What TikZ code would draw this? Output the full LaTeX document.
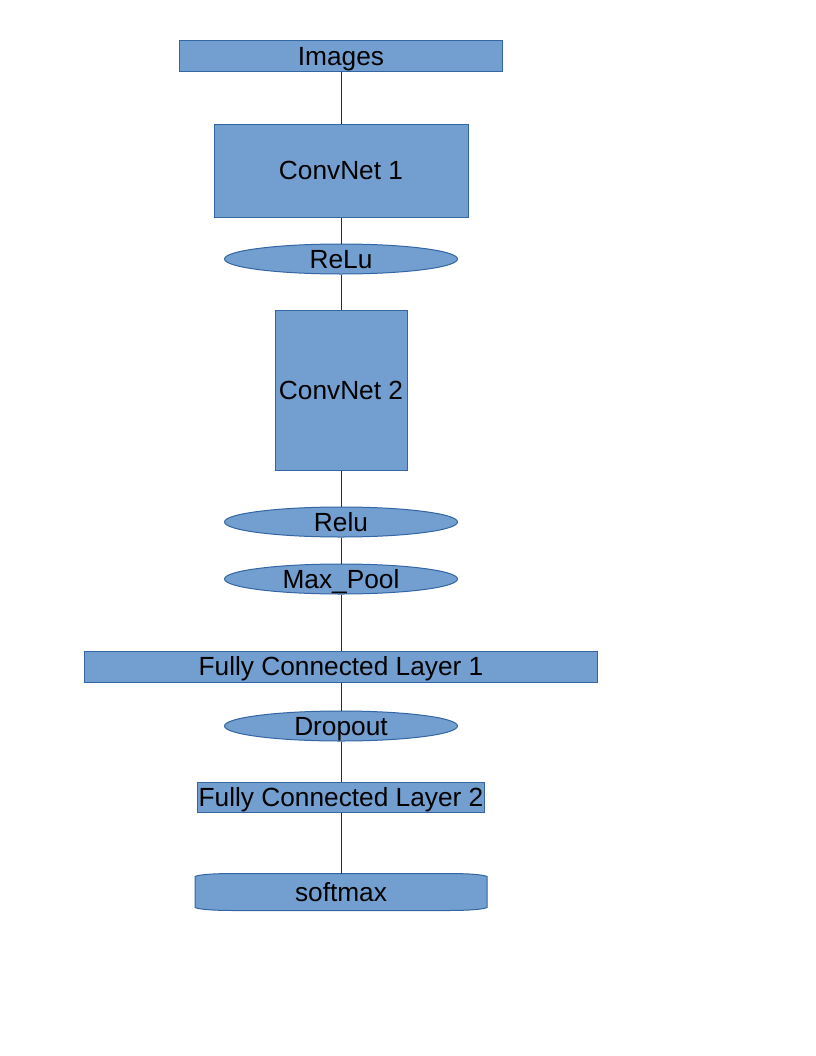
\documentclass[tikz,border=0pt]{standalone}
\usepackage{fontspec}
\setmainfont{Liberation Sans}
\usepackage{tikz}
\usetikzlibrary{shapes.geometric,backgrounds}

\definecolor{boxfill}{HTML}{729FCF}
\definecolor{boxedge}{HTML}{3465A4}
\definecolor{linkcol}{HTML}{1C2F4E}

\tikzset{
    layer/.style={draw=boxedge, fill=boxfill, line width=0.75pt, inner sep=0pt, font=\fontsize{19.7}{23}\selectfont, text height=18.3pt, text depth=4.1pt},
    act/.style={layer, ellipse, inner sep=-6pt, minimum width=174.75pt, minimum height=22.5pt},
    link/.style={draw=linkcol, line width=0.75pt}
}

\begin{document}
\begin{tikzpicture}[x=0.75pt, y=-0.75pt]
            \useasboundingbox (0,0) rectangle (816,1056);

            \node[layer, minimum width=242.25pt, minimum height=23.25pt] (img) at (341,56.5) {Images}; % input
            \node[layer, minimum width=190.5pt, minimum height=69.75pt] (cn1) at (341,170.5) {ConvNet 1}; % conv 1
            \node[act] (relu1) at (341,259) {ReLu}; % act 1
            \node[layer, minimum width=99pt, minimum height=120pt] (cn2) at (341,390) {ConvNet 2}; % conv 2
            \node[act] (relu2) at (341,522) {Relu}; % act 2
            \node[act] (pool) at (341,579) {Max\_Pool}; % pooling
            \node[layer, minimum width=384.75pt, minimum height=23.25pt] (fc1) at (341,666.5) {Fully Connected Layer 1}; % fc 1
            \node[act] (drop) at (341,726) {Dropout}; % dropout
            \node[layer, minimum width=215.25pt, minimum height=22.5pt] (fc2) at (341,797) {Fully Connected Layer 2}; % fc 2
            \node[layer, draw=none, fill=none, minimum width=218.25pt, minimum height=27pt] (soft) at (341,892) {softmax}; % output

            \begin{scope}[on background layer]
                \draw[draw=boxedge, fill=boxfill, line width=0.75pt] ([yshift=-2.2pt]soft.north west) .. controls ([xshift=4pt,yshift=-0.6pt]soft.north west) and ([xshift=16pt]soft.north west) .. ([xshift=30pt]soft.north west) -- ([xshift=-30pt]soft.north east) .. controls ([xshift=-16pt]soft.north east) and ([xshift=-4pt,yshift=-0.6pt]soft.north east) .. ([yshift=-2.2pt]soft.north east) -- ([yshift=2.2pt]soft.south east) .. controls ([xshift=-4pt,yshift=0.6pt]soft.south east) and ([xshift=-16pt]soft.south east) .. ([xshift=-30pt]soft.south east) -- ([xshift=30pt]soft.south west) .. controls ([xshift=16pt]soft.south west) and ([xshift=4pt,yshift=0.6pt]soft.south west) .. ([yshift=2.2pt]soft.south west) -- cycle; % softmax shape
            \end{scope}

            \draw[link] (img) -- (cn1);
            \draw[link] (cn1) -- (relu1);
            \draw[link] (relu1) -- (cn2);
            \draw[link] (cn2) -- (relu2);
            \draw[link] (relu2) -- (pool);
            \draw[link] (pool) -- (fc1);
            \draw[link] (fc1) -- (drop);
            \draw[link] (drop) -- (fc2);
            \draw[link] (fc2) -- (soft);

        \end{tikzpicture}
\end{document}
